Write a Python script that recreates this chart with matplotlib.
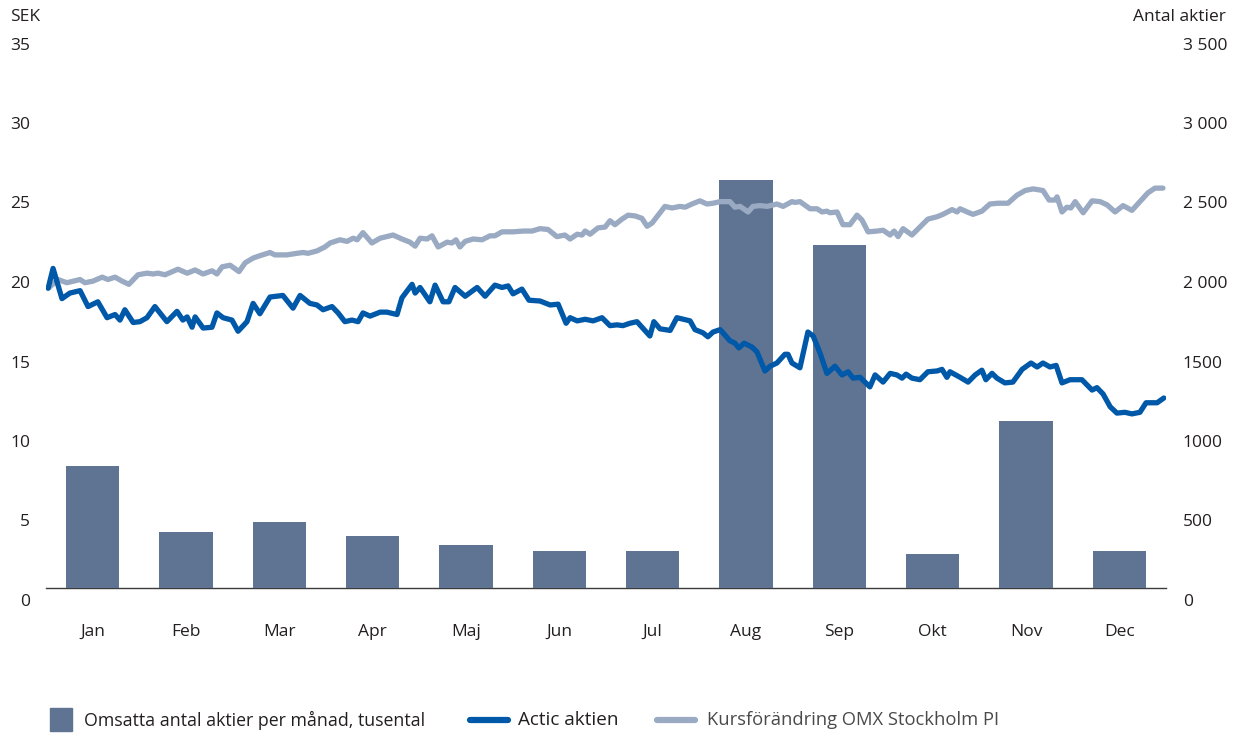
import matplotlib
matplotlib.use('Agg')
from matplotlib import pyplot as plt
from matplotlib.lines import Line2D
from matplotlib.patches import Rectangle
from matplotlib.transforms import ScaledTranslation
import numpy as np

plt.rcParams['font.family'] = ['Open Sans', 'DejaVu Sans']

# Monthly turnover (thousand shares)
months = ['Jan', 'Feb', 'Mar', 'Apr', 'Maj', 'Jun', 'Jul', 'Aug', 'Sep',
          'Okt', 'Nov', 'Dec']
turnover = [767, 352, 415, 327, 270, 235, 235, 2566, 2157, 215, 1050, 233]

# Actic share price (SEK), day of year
actic_day = [0.7, 2.3, 5.2, 7.8, 11.1, 13.7, 16.9, 19.9, 22.5, 24.1, 25.7,
             28.4, 30.6, 32.9, 35.5, 39.4, 42.7, 44.6, 46.0, 47.6, 48.6, 51.2,
             54.1, 55.7, 57.7, 60.6, 62.6, 65.5, 67.5, 69.7, 73.0, 77.2, 80.5,
             82.8, 86.0, 88.3, 90.3, 93.2, 95.2, 97.4, 99.7, 101.7, 103.3,
             105.6, 108.9, 111.1, 114.4, 116.0, 119.3, 120.3, 121.9, 125.1,
             126.8, 129.4, 131.3, 133.3, 136.6, 140.5, 143.1, 146.3, 148.6,
             150.6, 152.2, 155.1, 157.4, 161.0, 164.3, 166.9, 169.5, 170.8,
             173.1, 175.7, 178.3, 181.2, 183.8, 186.1, 188.0, 190.3, 192.6,
             196.8, 198.1, 200.1, 203.4, 205.6, 209.9, 211.5, 214.1, 215.7,
             217.4, 219.7, 222.9, 224.5, 225.8, 227.5, 230.1, 231.7, 234.3,
             236.0, 238.2, 240.8, 241.8, 243.1, 245.7, 248.3, 250.0, 252.2,
             254.5, 257.1, 259.4, 261.4, 263.0, 265.3, 268.5, 270.2, 272.8,
             275.1, 277.3, 279.0, 280.3, 282.2, 284.8, 287.4, 290.4, 292.0,
             293.6, 294.6, 297.9, 300.5, 302.8, 305.0, 306.3, 308.3, 309.9,
             312.5, 315.1, 318.1, 321.0, 323.0, 324.9, 327.2, 329.2, 331.1,
             333.7, 337.6, 340.9, 342.5, 344.5, 346.8, 349.0, 351.6, 353.9,
             356.5, 358.5, 362.1, 364.3]
actic_sek = [18.85, 20.1, 18.2, 18.55, 18.7, 17.7, 18.0, 17.0, 17.2, 16.85,
             17.5, 16.7, 16.75, 17.0, 17.7, 16.75, 17.4, 16.85, 17.05, 16.4,
             17.05, 16.35, 16.4, 17.3, 17.0, 16.85, 16.15, 16.75, 17.9, 17.25,
             18.3, 18.4, 17.6, 18.4, 17.9, 17.8, 17.5, 17.7, 17.3, 16.75,
             16.85, 16.75, 17.3, 17.1, 17.35, 17.35, 17.2, 18.25, 19.1, 18.55,
             18.9, 18.0, 19.05, 18.0, 18.0, 18.9, 18.35, 18.9, 18.35, 19.05,
             18.9, 19.0, 18.5, 18.8, 18.1, 18.05, 17.8, 17.85, 16.65, 17.0,
             16.8, 16.9, 16.8, 17.0, 16.5, 16.55, 16.5, 16.65, 16.75, 15.85,
             16.75, 16.3, 16.2, 17.0, 16.8, 16.25, 16.05, 15.8, 16.1, 16.25,
             15.55, 15.4, 15.1, 15.4, 15.15, 14.85, 13.65, 13.95, 14.15, 14.7,
             14.7, 14.15, 13.85, 16.1, 15.85, 14.8, 13.5, 13.95, 13.4, 13.6,
             13.2, 13.25, 12.65, 13.4, 12.95, 13.5, 13.4, 13.2, 13.45, 13.2,
             13.1, 13.6, 13.65, 13.75, 13.25, 13.6, 13.25, 12.95, 13.4, 13.7,
             13.1, 13.5, 13.2, 12.9, 12.95, 13.75, 14.15, 13.9, 14.15, 13.9,
             14.0, 12.9, 13.1, 13.1, 12.45, 12.6, 12.2, 11.4, 11.0, 11.05,
             10.95, 11.05, 11.65, 11.65, 11.95]

# OMX Stockholm PI rebased to SEK, day of year
omx_day = [1.0, 3.9, 6.8, 11.1, 12.7, 15.3, 18.3, 20.2, 22.5, 24.8, 27.0,
           30.0, 32.9, 34.9, 36.5, 38.8, 43.0, 46.0, 48.6, 51.2, 54.1, 55.7,
           57.4, 60.0, 62.9, 64.9, 67.5, 69.7, 71.4, 73.0, 74.6, 78.5, 81.8,
           83.8, 85.4, 88.3, 90.9, 92.6, 95.8, 98.1, 100.1, 101.4, 103.3,
           106.2, 108.9, 113.1, 116.0, 118.6, 120.3, 121.9, 124.2, 125.8,
           127.8, 130.7, 132.3, 133.6, 134.9, 136.6, 139.2, 142.1, 144.7,
           146.3, 148.6, 152.2, 155.5, 158.4, 161.0, 163.6, 166.5, 169.1,
           170.8, 173.1, 174.7, 175.7, 177.3, 179.9, 182.2, 183.8, 185.4,
           187.7, 189.7, 192.0, 194.2, 195.9, 197.5, 199.1, 201.7, 204.0,
           206.6, 208.3, 210.5, 213.1, 215.4, 217.4, 219.7, 222.9, 224.5,
           226.2, 228.8, 230.4, 232.7, 235.0, 238.2, 240.2, 243.1, 244.1,
           245.7, 249.0, 251.3, 252.9, 254.5, 255.5, 257.8, 259.7, 262.0,
           264.3, 265.9, 267.9, 270.8, 272.8, 275.1, 276.4, 277.7, 279.3,
           282.2, 284.8, 287.4, 290.4, 292.3, 295.3, 296.9, 297.9, 300.2,
           302.1, 305.0, 307.6, 310.3, 313.5, 316.4, 319.1, 321.7, 324.9,
           326.9, 328.8, 329.5, 331.1, 332.7, 334.0, 335.4, 338.0, 340.9,
           343.5, 345.8, 348.4, 351.0, 353.9, 356.5, 359.1, 361.4, 364.0]
omx_sek = [18.9, 19.4, 19.2, 19.4, 19.2, 19.3, 19.55, 19.4, 19.55, 19.3, 19.1,
           19.7, 19.8, 19.75, 19.8, 19.7, 20.05, 19.8, 20.0, 19.75, 19.95,
           19.75, 20.2, 20.3, 19.9, 20.45, 20.75, 20.9, 21.0, 21.1, 20.95,
           20.95, 21.05, 21.1, 21.05, 21.2, 21.45, 21.7, 21.9, 21.8, 22.0,
           21.9, 22.35, 21.7, 22.0, 22.2, 21.95, 21.75, 21.5, 22.0, 21.95,
           22.15, 21.45, 21.75, 21.7, 21.9, 21.45, 21.8, 21.95, 21.9, 22.15,
           22.15, 22.4, 22.4, 22.45, 22.45, 22.6, 22.55, 22.1, 22.2, 21.95,
           22.25, 22.2, 22.45, 22.25, 22.65, 22.7, 23.1, 22.85, 23.2, 23.45,
           23.4, 23.25, 22.75, 22.95, 23.35, 24.0, 23.9, 24.0, 23.95, 24.15,
           24.35, 24.15, 24.2, 24.3, 24.3, 23.95, 24.0, 23.65, 24.0, 24.05,
           24.0, 24.15, 24.0, 24.3, 24.25, 24.3, 23.85, 23.85, 23.65, 23.7,
           23.6, 23.65, 22.85, 22.85, 23.45, 23.15, 22.4, 22.45, 22.5, 22.2,
           22.45, 22.1, 22.6, 22.2, 22.7, 23.2, 23.35, 23.5, 23.8, 23.65,
           23.85, 23.65, 23.5, 23.7, 24.15, 24.2, 24.2, 24.7, 25.0, 25.1,
           25.0, 24.4, 24.4, 24.6, 23.65, 23.95, 23.9, 24.3, 23.6, 24.35,
           24.3, 24.1, 23.65, 24.05, 23.75, 24.3, 24.85, 25.15, 25.15]

sek_ticks = [0, 5, 10, 15, 20, 25, 30, 35]
shares_ticks = [0, 500, 1000, 1500, 2000, 2500, 3000, 3500]
shares_labels = ['0', '500', '1000', '1500', '2 000', '2 500', '3 000', '3 500']

bar_color = '#5f7493'
actic_color = '#0058a8'
omx_color = '#99aac2'
text_color = '#231f20'

fig = plt.figure(figsize=(12.37, 7.36), dpi=100)
ax = fig.add_axes([46 / 1237, 148 / 736, 1120 / 1237, 556.5 / 736])
ax2 = ax.twinx()

# bars on the back axis (right scale), lines on the front axis (left scale)
x_bar = np.arange(len(months)) + 0.5
ax.bar(x_bar, turnover, width=0.57, color=bar_color, zorder=2)
ax.set_ylim(0, 3500)
ax.set_xlim(0, 12)

to_month = 12 / 365.0
ax2.plot(np.array(omx_day) * to_month, omx_sek, color=omx_color, lw=3.8,
         solid_joinstyle='round', solid_capstyle='round')
ax2.plot(np.array(actic_day) * to_month, actic_sek, color=actic_color,
         lw=3.8, solid_joinstyle='round', solid_capstyle='round')
ax2.set_ylim(0, 35)

# swap sides: SEK on the left, shares on the right
ax.yaxis.tick_right()
ax2.yaxis.tick_left()
ax.set_yticks(shares_ticks)
ax.set_yticklabels(shares_labels)
ax2.set_yticks(sek_ticks)
ax2.set_yticklabels([str(v) for v in sek_ticks])

ax.set_xticks(x_bar)
ax.set_xticklabels(months)
ax.tick_params(axis='x', length=0, pad=26, labelsize=12.5, labelcolor=text_color)
ax.tick_params(axis='y', length=0, pad=12, labelsize=12.5, labelcolor=text_color)
ax2.tick_params(axis='y', length=0, pad=11.5, labelsize=12.5,
                labelcolor=text_color)

# labels sit a bit below their value
shift = ScaledTranslation(0, -12 / 100, fig.dpi_scale_trans)
for a in (ax, ax2):
    for tick in a.yaxis.get_major_ticks():
        tick.label1.set_transform(tick.label1.get_transform() + shift)
        tick.label2.set_transform(tick.label2.get_transform() + shift)

for a in (ax, ax2):
    for side in ['top', 'left', 'right']:
        a.spines[side].set_visible(False)
ax2.spines['bottom'].set_visible(False)
ax.spines['bottom'].set_color('#3c3c3c')
ax.spines['bottom'].set_linewidth(1.0)
ax.spines['bottom'].set_zorder(1)

fig.text(10 / 1237, 1 - 17 / 736, 'SEK', fontsize=12.5, color=text_color,
         ha='left', va='center')
fig.text(1226 / 1237, 1 - 17 / 736, 'Antal aktier', fontsize=12.5,
         color=text_color, ha='right', va='center')

# legend
ly = 1 - 720 / 736
fig.patches.append(Rectangle((50 / 1237, 1 - 731 / 736), 22 / 1237, 23 / 736,
                             transform=fig.transFigure, color=bar_color))
fig.text(84 / 1237, ly, 'Omsatta antal aktier per månad, tusental',
         fontsize=12.8, color=text_color, va='center')
fig.lines.append(Line2D([470 / 1237, 508 / 1237], [ly, ly], lw=4.5,
                        color=actic_color, solid_capstyle='round',
                        transform=fig.transFigure))
fig.text(518 / 1237, ly, 'Actic aktien', fontsize=13.6, color=text_color,
         va='center')
fig.lines.append(Line2D([657 / 1237, 695 / 1237], [ly, ly], lw=4.5,
                        color=omx_color, solid_capstyle='round',
                        transform=fig.transFigure))
fig.text(707 / 1237, ly, 'Kursförändring OMX Stockholm PI', fontsize=13.2,
         color='#4a4a4a', va='center')

plt.savefig('out.png', dpi=100)
plt.close()
